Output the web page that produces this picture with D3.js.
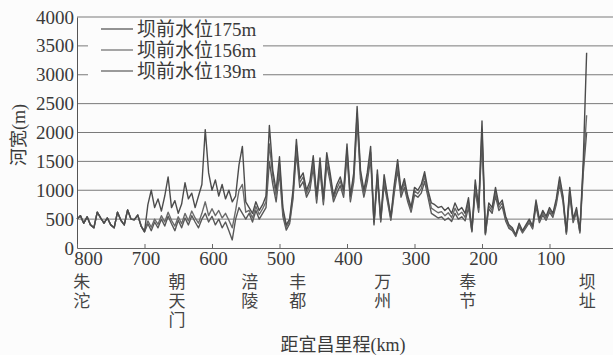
<!DOCTYPE html>
<html>
<head>
<meta charset="utf-8">
<script src="https://cdn.jsdelivr.net/npm/d3@7"></script>
<style>
  body { margin: 0; background: #fcfcfc; }
  svg { display: block; }
</style>
</head>
<body>
<svg id="chart" width="613" height="355"></svg>
<script>
// distance from Yichang (km), every 5 km from 800 down to 45
const distances = d3.range(800, 44, -5);

// river width (m) for the three pool levels
const level175 = [
  500, 560, 430, 540, 400, 350, 620, 520, 430, 520,
  400, 350, 620, 480, 400, 660, 500, 490, 570, 380,
  280, 750, 1000, 700, 850, 640, 900, 1230, 700, 820,
  600, 760, 1130, 850, 950, 700, 900, 1100, 2050, 1300,
  1000, 1180, 900, 1100, 850, 1000, 800, 900, 1440, 1760,
  800, 700, 600, 800, 650, 750, 900, 2120, 1350, 1000,
  1580, 700, 400, 500, 1000, 1880, 1200, 1300, 1000, 1150,
  1600, 900, 1560, 850, 1650, 1300, 900, 1100, 1230, 1000,
  1800, 900, 1300, 2450, 1350, 1000, 1300, 1760, 450, 1350,
  500, 1270, 900, 540, 1100, 1530, 1000, 1200, 900, 710,
  1050, 1000, 1100, 1320, 1000, 780, 750, 700, 720, 650,
  700, 600, 780, 650, 700, 600, 870, 310, 1180, 700,
  2200, 260, 780, 700, 1050, 750, 830, 550, 400, 350,
  230, 430, 300, 400, 500, 380, 830, 500, 650, 550,
  700, 600, 850, 1230, 900, 280, 1050, 500, 700, 300,
  1500, 3380
];
const level156 = [
  500, 560, 430, 540, 400, 350, 620, 520, 430, 520,
  400, 350, 620, 480, 400, 660, 500, 490, 570, 380,
  290, 470, 360, 500, 410, 560, 450, 620, 480, 380,
  540, 420, 600, 470, 640, 520, 430, 600, 800, 560,
  680, 560, 650, 520, 600, 480, 350, 650, 1000, 1100,
  620, 650, 520, 720, 580, 680, 800, 1800, 1250, 900,
  1450, 630, 360, 460, 930, 1780, 1130, 1230, 940, 1080,
  1500, 840, 1460, 800, 1550, 1230, 850, 1030, 1160, 940,
  1700, 850, 1230, 2330, 1280, 940, 1230, 1660, 420, 1280,
  480, 1190, 850, 510, 1030, 1450, 940, 1130, 850, 660,
  990, 940, 1030, 1240, 940, 690, 650, 610, 630, 560,
  610, 530, 690, 570, 620, 530, 790, 290, 1090, 660,
  2050, 245, 730, 650, 980, 700, 780, 510, 370, 325,
  215, 400, 280, 375, 470, 355, 780, 470, 610, 515,
  660, 565, 800, 1170, 850, 260, 990, 470, 660, 280,
  1400, 2300
];
const level139 = [
  500, 560, 430, 540, 400, 350, 620, 520, 430, 520,
  400, 350, 620, 480, 400, 660, 500, 490, 570, 380,
  280, 420, 300, 450, 350, 500, 380, 550, 420, 300,
  480, 350, 520, 400, 560, 450, 350, 500, 600, 450,
  550, 400, 500, 350, 450, 300, 140, 500, 700, 600,
  500, 600, 450, 650, 500, 600, 700, 1500, 1100, 800,
  1300, 550, 310, 420, 850, 1650, 1050, 1150, 880, 1000,
  1400, 780, 1350, 750, 1450, 1150, 800, 950, 1080, 880,
  1600, 800, 1150, 2200, 1200, 880, 1150, 1550, 400, 1200,
  450, 1100, 800, 480, 950, 1350, 880, 1050, 800, 620,
  920, 880, 950, 1150, 880, 600, 560, 520, 540, 480,
  520, 460, 600, 500, 540, 470, 700, 280, 1000, 620,
  1900, 230, 680, 600, 900, 650, 720, 470, 340, 300,
  200, 370, 260, 350, 440, 330, 720, 440, 570, 480,
  620, 530, 750, 1100, 800, 240, 920, 440, 620, 260,
  1300, 2000
];

const seriesNames = ['坝前水位175m', '坝前水位156m', '坝前水位139m'];
const yTicks = [0, 500, 1000, 1500, 2000, 2500, 3000, 3500, 4000];
const xTicks = [800, 700, 600, 500, 400, 300, 200, 100, 0];
const placeNames = ['朱沱', '朝天门', '涪陵', '丰都', '万州', '奉节', '坝址'];
const placeKm = [793, 652, 544, 473, 347, 221, 44];

const numFont = '"Liberation Serif", "Noto Sans CJK SC", serif';
const cjkFont = '"Noto Sans CJK SC", sans-serif';
const ink = '#3a3a3a';

const svg = d3.select('#chart');
const x = d3.scaleLinear().domain([800, 0]).range([77, 617]);
const y = d3.scaleLinear().domain([0, 4000]).range([248, 17]);

// horizontal grid
svg.append('g')
  .selectAll('line')
  .data(yTicks.slice(1))
  .enter().append('line')
  .attr('x1', 77).attr('x2', 613)
  .attr('y1', d => y(d)).attr('y2', d => y(d))
  .attr('stroke', '#7a7a7a').attr('stroke-width', 1);

// lines
const line = d3.line()
  .x((d, i) => x(distances[i]))
  .y(d => y(d));

const series = [level139, level156, level175];
const strokes = ['#585858', '#6a6a6a', '#4c4c4c'];
svg.append('g')
  .selectAll('path')
  .data(series)
  .enter().append('path')
  .attr('d', line)
  .attr('fill', 'none')
  .attr('stroke', (d, i) => strokes[i])
  .attr('stroke-width', 1.4)
  .attr('stroke-linejoin', 'round');

// y axis
const yAxis = svg.append('g')
  .attr('transform', 'translate(77,0)')
  .call(d3.axisLeft(y).tickValues(yTicks).tickFormat(d3.format('d')).tickSize(0).tickPadding(3));
yAxis.select('.domain').attr('stroke', '#555');
yAxis.selectAll('text')
  .attr('font-family', numFont).attr('font-size', 19).attr('fill', ink);

// x axis
const xAxis = svg.append('g')
  .attr('transform', 'translate(0,248)')
  .call(d3.axisBottom(x).tickValues(xTicks).tickFormat(d3.format('d')).tickSizeInner(-4).tickSizeOuter(0).tickPadding(4));
xAxis.select('.domain').attr('stroke', '#666');
xAxis.selectAll('.tick line').attr('stroke', '#666');
xAxis.selectAll('text')
  .attr('font-family', numFont).attr('font-size', 19).attr('fill', ink)
  .attr('dx', d => d === 800 ? 11 : 1);

// legend
svg.append('rect')
  .attr('x', 88).attr('y', 21).attr('width', 175).attr('height', 63)
  .attr('fill', '#fcfcfc');
const legend = svg.append('g')
  .selectAll('g')
  .data(seriesNames)
  .enter().append('g')
  .attr('transform', (d, i) => 'translate(101,' + (29 + i * 21) + ')');
legend.append('line')
  .attr('x1', 0).attr('x2', 32)
  .attr('stroke', (d, i) => strokes[2 - i]).attr('stroke-width', 1.2);
legend.append('text')
  .attr('x', 36).attr('dy', '0.35em')
  .attr('font-family', numFont).attr('font-size', 19).attr('fill', ink)
  .text(d => d);

// place names, written top to bottom
svg.append('g')
  .selectAll('text')
  .data(placeNames)
  .enter().append('text')
  .attr('x', (d, i) => x(placeKm[i]))
  .attr('y', 273)
  .style('writing-mode', 'vertical-rl')
  .style('text-orientation', 'upright')
  .style('letter-spacing', '2px')
  .attr('font-family', cjkFont).attr('font-size', 17).attr('fill', '#444')
  .text(d => d);

// axis titles
svg.append('text')
  .attr('x', 343).attr('y', 351)
  .attr('text-anchor', 'middle')
  .attr('font-family', numFont).attr('font-size', 18).attr('fill', ink)
  .text('距宜昌里程(km)');

svg.append('text')
  .attr('transform', 'translate(25,135) rotate(-90)')
  .attr('text-anchor', 'middle')
  .attr('font-family', numFont).attr('font-size', 18).attr('fill', ink)
  .text('河宽(m)');
</script>
</body>
</html>
